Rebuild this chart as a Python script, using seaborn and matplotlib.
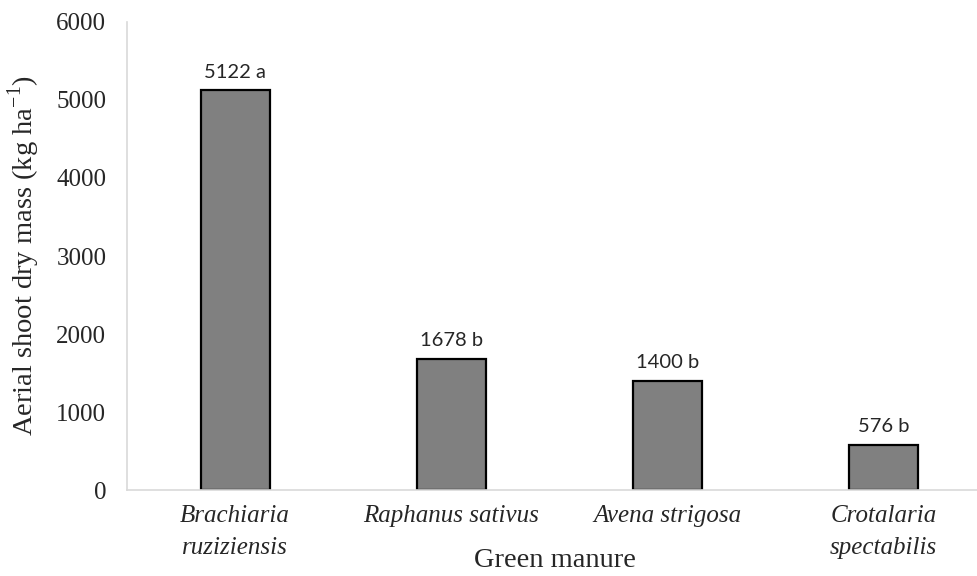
import matplotlib
matplotlib.use("Agg")
import matplotlib.pyplot as plt
import seaborn as sns
import pandas as pd

# green manure species and aerial shoot dry mass (kg/ha)
species = ["Brachiaria\nruziziensis", "Raphanus sativus", "Avena strigosa", "Crotalaria\nspectabilis"]
dry_mass = [5122, 1678, 1400, 576]
letters = ["a", "b", "b", "b"]

df = pd.DataFrame({"species": species, "mass": dry_mass})

sns.set_style("white")
plt.rcParams["font.family"] = ["Liberation Serif", "DejaVu Serif"]

fig = plt.figure(figsize=(9.78, 5.76), dpi=100)
ax = fig.add_axes([0.13, 0.149, 0.875, 0.813])

sns.barplot(data=df, x="species", y="mass", color="#808080", width=0.32,
            edgecolor="black", linewidth=1.6, saturation=1, ax=ax)

for i, (v, l) in enumerate(zip(dry_mass, letters)):
    ax.annotate(f"{v} {l}", (i, v), xytext=(0, 7), textcoords="offset points",
                ha="center", va="bottom", fontsize=14.5, family=["Lato", "DejaVu Sans"])

ax.set_ylim(0, 6000)
ax.set_xlim(-0.5, 3.46)
ax.set_yticks(range(0, 6001, 1000))
ax.tick_params(axis="y", length=0, pad=15, labelsize=18)
ax.tick_params(axis="x", length=0, pad=11, labelsize=18)
for lab in ax.get_xticklabels():
    lab.set_fontstyle("italic")
    lab.set_linespacing(1.55)

ax.set_xlabel("Green manure", fontsize=20.5)
ax.set_ylabel("Aerial shoot dry mass (kg ha$^{\\mathregular{-1}}$)", fontsize=20.5)
ax.xaxis.set_label_coords(0.5, -0.124)
ax.yaxis.set_label_coords(-0.099, 0.5)

for s in ["top", "right"]:
    ax.spines[s].set_visible(False)
for s in ["left", "bottom"]:
    ax.spines[s].set_color("#d9d9d9")
    ax.spines[s].set_linewidth(1.2)

fig.savefig("out.png", dpi=100)
